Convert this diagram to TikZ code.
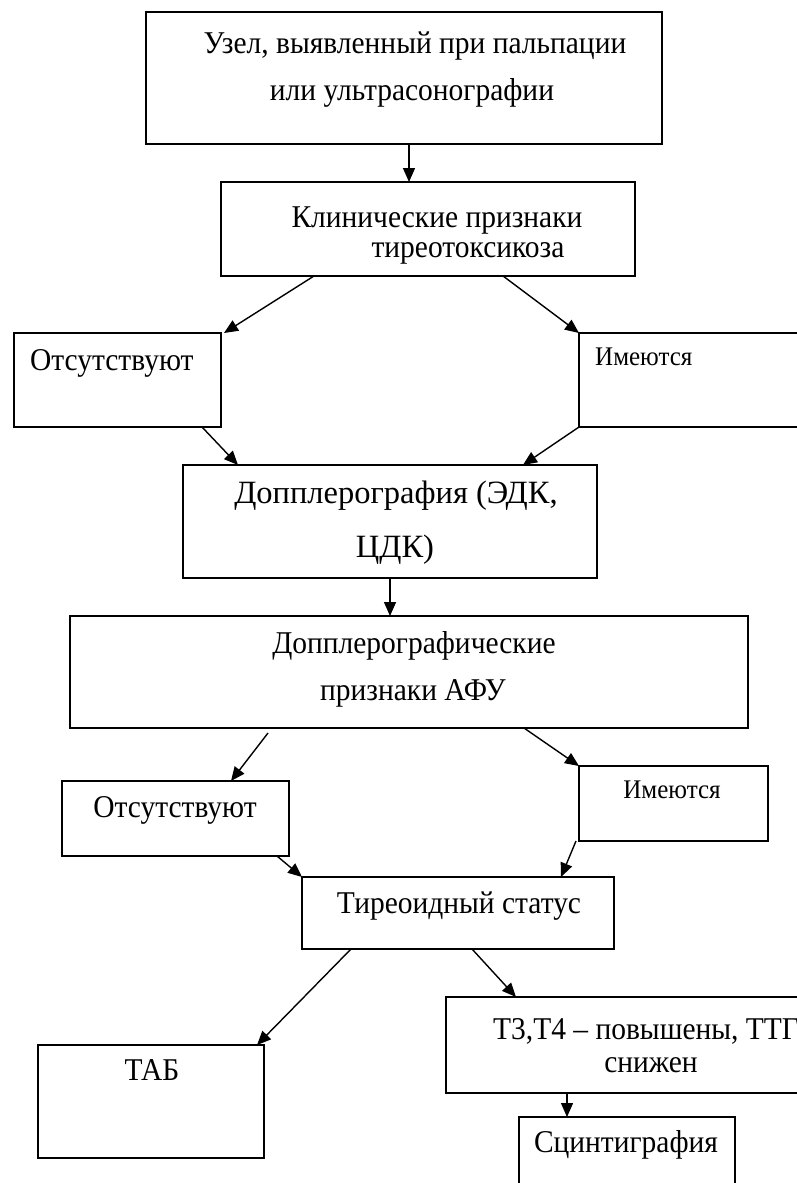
\documentclass[tikz,border=0pt]{standalone}
\usepackage{fontspec}
\setmainfont[FakeStretch=0.93]{Liberation Serif}
\newfontfamily\plainserif{Liberation Serif}
\usetikzlibrary{arrows.meta}
\tikzset{
  box/.style={draw=black, line width=1.6pt, rectangle, inner sep=0pt, outer sep=0pt, anchor=north west},
  txt/.style={anchor=base, inner sep=0pt, font=\fontsize{31.7}{34}\selectfont},
  txtl/.style={anchor=base west, inner sep=0pt, font=\fontsize{31.7}{34}\selectfont},
  small/.style={font=\fontsize{26.9}{29}\selectfont},
  big/.style={font=\plainserif\fontsize{32.5}{36}\selectfont},
  arr/.style={line width=1.4pt, -{Triangle[length=14pt,width=12pt]}}
}
\begin{document}
\begin{tikzpicture}[x=1pt,y=-1pt]
\path[use as bounding box] (0,0) rectangle (797,1183);
\clip (0,0) rectangle (797,1183);
\fill[white] (0,0) rectangle (797,1183);
% boxes
\node[box, minimum width=516pt, minimum height=132pt] (b1) at (146,12) {};
\node[box, minimum width=414pt, minimum height=94pt] (b2) at (221,182) {};
\node[box, minimum width=207pt, minimum height=94pt] (b3L) at (14,333) {};
\node[box, minimum width=260pt, minimum height=94pt] (b3R) at (579,333) {};
\node[box, minimum width=414pt, minimum height=113pt] (b4) at (183,465) {};
\node[box, minimum width=678pt, minimum height=112pt] (b5) at (70,616) {};
\node[box, minimum width=227pt, minimum height=75pt] (b6L) at (62,781) {};
\node[box, minimum width=189pt, minimum height=75pt] (b6R) at (579,766) {};
\node[box, minimum width=312pt, minimum height=72pt] (b7) at (302,877) {};
\node[box, minimum width=226pt, minimum height=113pt] (b8) at (38,1045) {};
\node[box, minimum width=420pt, minimum height=96pt] (b9) at (446,997) {};
\node[box, minimum width=216pt, minimum height=90pt] (b10) at (519,1117) {};
% texts
\node[txt] (t1a) at (415,53) {Узел, выявленный при пальпации};
\node[txt] (t1b) at (412,100) {или ультрасонографии};
\node[txt] (t2a) at (437,227) {Клинические признаки};
\node[txt] (t2b) at (468,257) {тиреотоксикоза};
\node[txtl] (t3L) at (30,370) {Отсутствуют};
\node[txtl, small] (t3R) at (595,365) {Имеются};
\node[txt, big] (t4a) at (396,503) {Допплерография (ЭДК,};
\node[txt, big] (t4b) at (395,557) {ЦДК)};
\node[txt] (t5a) at (414,653) {Допплерографические};
\node[txt] (t5b) at (413,700) {признаки АФУ};
\node[txt] (t6L) at (175,817) {Отсутствуют};
\node[txt, small] (t6R) at (672,798) {Имеются};
\node[txt] (t7) at (459,913) {Тиреоидный статус};
\node[txt] (t8) at (152,1080) {ТАБ};
\node[txtl] (t9a) at (493,1039) {Т3,Т4 – повышены, ТТГ};
\node[txt] (t9b) at (651,1072) {снижен};
\node[txt] (t10) at (626,1152) {Сцинтиграфия};
% arrows
\draw[arr] ([xshift=263pt]b1.south west) -- ([xshift=188pt]b2.north west);
\draw[arr] ([xshift=93pt]b2.south west) -- ([xshift=3pt]b3L.north east);
\draw[arr] ([xshift=282pt]b2.south west) -- (b3R.north west);
\draw[arr] ([xshift=-19pt]b3L.south east) -- ([xshift=55pt]b4.north west);
\draw[arr] (b3R.south west) -- ([xshift=340pt]b4.north west);
\draw[arr] ([xshift=207pt]b4.south west) -- ([xshift=320pt]b5.north west);
\draw[arr] ([xshift=198pt,yshift=-5pt]b5.south west) -- ([xshift=169pt]b6L.north west);
\draw[arr] ([xshift=454pt]b5.south west) -- (b6R.north west);
\draw[arr] ([xshift=-12pt]b6L.south east) -- (b7.north west);
\draw[arr] ([xshift=-3pt]b6R.south west) -- ([xshift=259pt]b7.north west);
\draw[arr] ([xshift=49pt]b7.south west) -- ([xshift=-7pt]b8.north east);
\draw[arr] ([xshift=170pt]b7.south west) -- ([xshift=70pt]b9.north west);
\draw[arr] ([xshift=121pt]b9.south west) -- ([xshift=48pt]b10.north west);
\end{tikzpicture}
\end{document}
